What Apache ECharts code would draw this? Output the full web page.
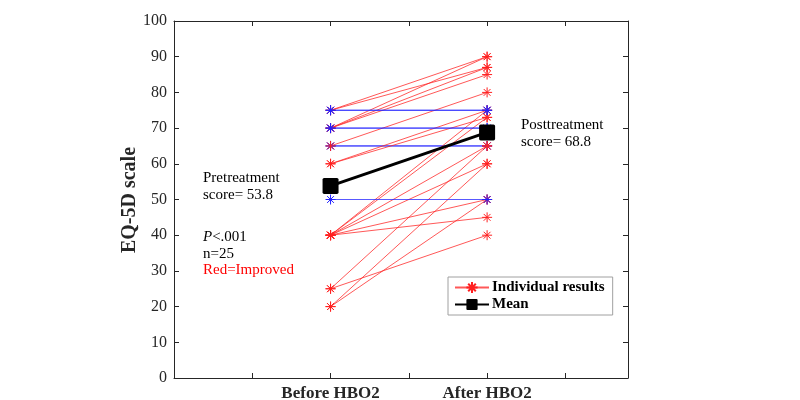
<!DOCTYPE html>
<html><head><meta charset="utf-8">
<script src="https://cdn.jsdelivr.net/npm/echarts@6/dist/echarts.min.js"></script>
<style>html,body{margin:0;padding:0;background:#fff}#c{width:800px;height:400px}</style>
</head><body><div id="c"></div>
<script>
// ---- data ----
const categories = ['Before HBO2', 'After HBO2'];
const categoryPositions = [1, 2];
const yAxisTitle = 'EQ-5D scale';
// individual subjects, drawn in this order
const beforeScores = [65, 65, 75, 75, 70, 70, 70, 65, 60, 60, 40, 40, 40, 40, 40, 40, 25, 25, 20, 20, 75, 75, 70, 70, 50];
const afterScores  = [65, 65, 90, 87, 90, 87, 85, 80, 73, 75, 75, 73, 65, 60, 50, 45, 40, 65, 60, 50, 75, 75, 70, 70, 50];
const meanScores = [53.8, 68.8];
const yTickValues = [0, 10, 20, 30, 40, 50, 60, 70, 80, 90, 100];

const SERIF = '"Liberation Serif","Times New Roman",serif';
const TXT = '#262626';
const asterisk = 'path://M5,0L5,10M0,5L10,5M1.6,1.6L8.4,8.4M1.6,8.4L8.4,1.6';

const series = [];
for (let i = 0; i < beforeScores.length; i++) {
  const improved = afterScores[i] > beforeScores[i];
  const col = improved ? '#ff2020' : '#2020ff';
  series.push({
    type: 'line',
    name: improved ? 'Individual results' : 'Unchanged',
    data: [[categoryPositions[0], beforeScores[i]], [categoryPositions[1], afterScores[i]]],
    symbol: asterisk,
    symbolSize: 10,
    lineStyle: { color: col, width: 1, opacity: 0.75 },
    itemStyle: { color: 'rgba(0,0,0,0)', borderColor: col, borderWidth: 1 },
    emphasis: { disabled: true },
    silent: true,
    animation: false,
    z: 2
  });
}
series.push({
  type: 'line',
  name: 'Mean',
  data: [[categoryPositions[0], meanScores[0]], [categoryPositions[1], meanScores[1]]],
  symbol: 'path://M1,0L9,0Q10,0 10,1L10,9Q10,10 9,10L1,10Q0,10 0,9L0,1Q0,0 1,0Z',
  symbolSize: 16,
  lineStyle: { color: '#000', width: 3 },
  itemStyle: { color: '#000' },
  animation: false,
  z: 5
});

const axisLine = { show: true, onZero: false, lineStyle: { color: TXT, width: 1 } };
const tick = { show: true, inside: true, length: 5, lineStyle: { color: TXT } };

const chart = echarts.init(document.getElementById('c'), null, { renderer: 'canvas' });
chart.setOption({
  animation: false,
  backgroundColor: '#fff',
  grid: { left: 174, right: 172, top: 21, bottom: 22, containLabel: false, outerBoundsMode: 'none' },
  xAxis: [{
    type: 'value', min: 0, max: 2.9, interval: 0.5, position: 'bottom',
    axisLine: axisLine, axisTick: tick, splitLine: { show: false },
    axisLabel: {
      color: TXT, fontFamily: SERIF, fontSize: 17, fontWeight: 'bold', margin: 7,
      formatter: v => { const k = categoryPositions.indexOf(v); return k >= 0 ? categories[k] : ''; }
    }
  }, {
    type: 'value', min: 0, max: 2.9, interval: 0.5, position: 'top',
    axisLine: axisLine, axisTick: tick, splitLine: { show: false }, axisLabel: { show: false }
  }],
  yAxis: [{
    type: 'value', min: 0, max: 100, interval: 10, position: 'left',
    axisLine: axisLine, axisTick: tick, splitLine: { show: false },
    axisLabel: { color: TXT, fontFamily: SERIF, fontSize: 16, margin: 7,
      formatter: v => yTickValues.indexOf(v) >= 0 ? String(v) : '' }
  }, {
    type: 'value', min: 0, max: 100, interval: 10, position: 'right',
    axisLine: axisLine, axisTick: tick, splitLine: { show: false }, axisLabel: { show: false }
  }],
  legend: {
    data: ['Individual results', 'Mean'],
    orient: 'vertical', left: 448, top: 277,
    backgroundColor: '#fff', borderColor: '#a0a0a0', borderWidth: 1, borderRadius: 0,
    padding: [3, 8, 3, 6], itemGap: 2, itemWidth: 34, itemHeight: 14,
    textStyle: { color: '#000', fontFamily: SERIF, fontSize: 15, fontWeight: 'bold', padding: [0, 0, 0, -2] },
    selectedMode: false
  },
  graphic: [
    { type: 'text', x: 130, y: 200, rotation: Math.PI / 2,
      style: { text: yAxisTitle, fill: TXT, font: 'bold 20px ' + SERIF, align: 'center', verticalAlign: 'middle' } },
    { type: 'text', left: 203, top: 170, style: { text: 'Pretreatment\nscore= 53.8', fill: '#000', font: '15px ' + SERIF, lineHeight: 17 } },
    { type: 'text', left: 521, top: 117, style: { text: 'Posttreatment\nscore= 68.8', fill: '#000', font: '15px ' + SERIF, lineHeight: 17 } },
    { type: 'text', left: 203, top: 229, style: { text: '{i|P}<.001\nn=25', fill: '#000', font: '15px ' + SERIF, lineHeight: 17,
        rich: { i: { fontStyle: 'italic', fontFamily: SERIF, fontSize: 15 } } } },
    { type: 'text', left: 203, top: 263, style: { text: 'Red=Improved', fill: '#ff0000', font: '15px ' + SERIF } }
  ],
  series: series
});
</script></body></html>
